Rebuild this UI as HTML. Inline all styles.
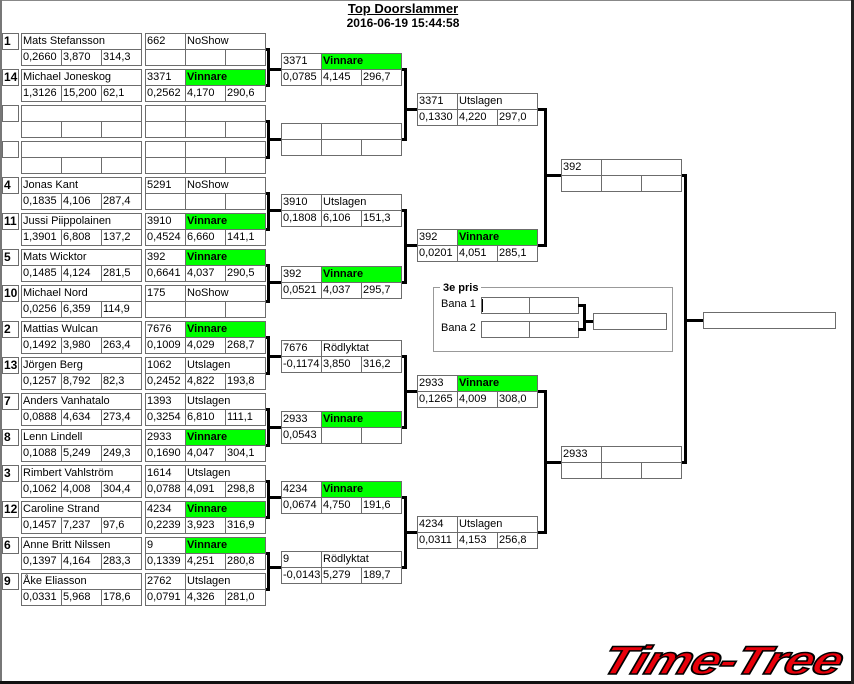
<!DOCTYPE html>
<html><head><meta charset="utf-8">
<style>
html,body{margin:0;padding:0;}
body{width:854px;height:684px;position:relative;overflow:hidden;background:#fff;font-family:"Liberation Sans",sans-serif;font-size:11px;color:#000;}
.c{position:absolute;box-sizing:border-box;border:1px solid #6c6c6c;height:17px;line-height:15px;padding-left:1px;white-space:nowrap;overflow:hidden;background:#fff;}
.g{background:#00ff00;font-weight:bold;}
.seed{position:absolute;box-sizing:border-box;border:1px solid #6c6c6c;width:17px;height:17px;line-height:15px;font-weight:bold;font-size:12px;padding-left:1px;}
.l{position:absolute;background:#000;}
</style></head><body>
<div style="position:absolute;left:0;top:0;width:854px;height:1px;background:#888"></div>
<div style="position:absolute;left:0;top:0;width:2px;height:684px;background:#777"></div>
<div style="position:absolute;left:0;top:681px;width:854px;height:3px;background:#111"></div>
<div style="position:absolute;left:851px;top:0;width:3px;height:684px;background:#222"></div>
<div style="position:absolute;left:0;width:806px;top:1px;text-align:center;font-weight:bold;font-size:13px;text-decoration:underline;line-height:16px">Top Doorslammer</div>
<div style="position:absolute;left:0;width:806px;top:16px;text-align:center;font-weight:bold;font-size:12px;line-height:14px">2016-06-19 15:44:58</div>

<div style="position:absolute;left:433px;top:287px;width:240px;height:65px;box-sizing:border-box;border:1px solid #999"></div>
<div style="position:absolute;left:440px;top:281px;background:#fff;padding:0 3px;font-weight:bold;line-height:14px">3e pris</div>
<div style="position:absolute;left:441px;top:297px;line-height:14px">Bana 1</div>
<div style="position:absolute;left:441px;top:321px;line-height:14px">Bana 2</div>

<div id="root"></div>
<div style="position:absolute;left:610px;top:640px;font-family:'Liberation Sans',sans-serif;font-weight:bold;font-style:italic;font-size:40px;line-height:42px;color:#e8000a;-webkit-text-stroke:1.5px #000;transform:skewX(-18deg) scaleX(1.32);transform-origin:left top;letter-spacing:-1px">Time-Tree</div>

<script>
var R=document.body,h='';
function c(x,y,w,t,g){h+='<div class="c'+(g?' g':'')+'" style="left:'+x+'px;top:'+y+'px;width:'+(w+1)+'px">'+(t||'')+'</div>';}
function box(x,y,a,b,s){c(x,y,40,a);c(x+40,y,80,b,b=='Vinnare');s=s||['','',''];c(x,y+16,40,s[0]);c(x+40,y+16,40,s[1]);c(x+80,y+16,40,s[2]);}
function nbox(x,y,n,s){c(x,y,120,n);s=s||['','',''];c(x,y+16,40,s[0]);c(x+40,y+16,40,s[1]);c(x+80,y+16,40,s[2]);}
function L(x,y,w,hh){h+='<div class="l" style="left:'+x+'px;top:'+y+'px;width:'+w+'px;height:'+hh+'px"></div>';}
var r1=[
['1','Mats Stefansson',['0,2660','3,870','314,3'],'662','NoShow',null],
['14','Michael Joneskog',['1,3126','15,200','62,1'],'3371','Vinnare',['0,2562','4,170','290,6']],
['','',null,'','',null],['','',null,'','',null],
['4','Jonas Kant',['0,1835','4,106','287,4'],'5291','NoShow',null],
['11','Jussi Piippolainen',['1,3901','6,808','137,2'],'3910','Vinnare',['0,4524','6,660','141,1']],
['5','Mats Wicktor',['0,1485','4,124','281,5'],'392','Vinnare',['0,6641','4,037','290,5']],
['10','Michael Nord',['0,0256','6,359','114,9'],'175','NoShow',null],
['2','Mattias Wulcan',['0,1492','3,980','263,4'],'7676','Vinnare',['0,1009','4,029','268,7']],
['13','Jörgen Berg',['0,1257','8,792','82,3'],'1062','Utslagen',['0,2452','4,822','193,8']],
['7','Anders Vanhatalo',['0,0888','4,634','273,4'],'1393','Utslagen',['0,3254','6,810','111,1']],
['8','Lenn Lindell',['0,1088','5,249','249,3'],'2933','Vinnare',['0,1690','4,047','304,1']],
['3','Rimbert Vahlström',['0,1062','4,008','304,4'],'1614','Utslagen',['0,0788','4,091','298,8']],
['12','Caroline Strand',['0,1457','7,237','97,6'],'4234','Vinnare',['0,2239','3,923','316,9']],
['6','Anne Britt Nilssen',['0,1397','4,164','283,3'],'9','Vinnare',['0,1339','4,251','280,8']],
['9','Åke Eliasson',['0,0331','5,968','178,6'],'2762','Utslagen',['0,0791','4,326','281,0']]];
var r2=[[53,'3371','Vinnare',['0,0785','4,145','296,7']],[123,'','',null],[194,'3910','Utslagen',['0,1808','6,106','151,3']],[266,'392','Vinnare',['0,0521','4,037','295,7']],[340,'7676','Rödlyktat',['-0,1174','3,850','316,2']],[411,'2933','Vinnare',['0,0543','','']],[481,'4234','Vinnare',['0,0674','4,750','191,6']],[551,'9','Rödlyktat',['-0,0143','5,279','189,7']]];
var r3=[[93,'3371','Utslagen',['0,1330','4,220','297,0']],[229,'392','Vinnare',['0,0201','4,051','285,1']],[375,'2933','Vinnare',['0,1265','4,009','308,0']],[516,'4234','Utslagen',['0,0311','4,153','256,8']]];
var r4=[[159,'392',''],[446,'2933','']];
for(var i=0;i<16;i++){var d=r1[i],y=33+36*i;
 h+='<div class="seed" style="left:2px;top:'+y+'px">'+d[0]+'</div>';
 nbox(21,y,d[1],d[2]);box(145,y,d[3],d[4],d[5]);}
for(i=0;i<8;i++)box(281,r2[i][0],r2[i][1],r2[i][2],r2[i][3]);
for(i=0;i<4;i++)box(417,r3[i][0],r3[i][1],r3[i][2],r3[i][3]);
for(i=0;i<2;i++)box(561,r4[i][0],r4[i][1],r4[i][2]);
c(703,312,132,'');
function br(xr,xv,ya,yb,xt,yt){L(xr,ya-1,xv-xr+2,3);L(xr,yb-1,xv-xr+2,3);L(xv,ya-1,3,yb-ya+3);L(xv,yt-1,xt-xv,3);}
for(i=0;i<8;i++){var ya=33+72*i+16,yb=ya+36;br(266,267,ya,yb,281,r2[i][0]+16);}
for(i=0;i<4;i++)br(402,404,r2[2*i][0]+16,r2[2*i+1][0]+16,417,r3[i][0]+16);
for(i=0;i<2;i++)br(538,544,r3[2*i][0]+16,r3[2*i+1][0]+16,561,r4[i][0]+16);
br(682,684,175,462,703,320);
c(481,297,49,'');c(529,297,49,'');c(481,321,49,'');c(529,321,49,'');c(593,313,73,'');
L(482,299,1,13);
br(578,583,305,329,593,321);
document.getElementById('root').innerHTML=h;
</script>
</body></html>
